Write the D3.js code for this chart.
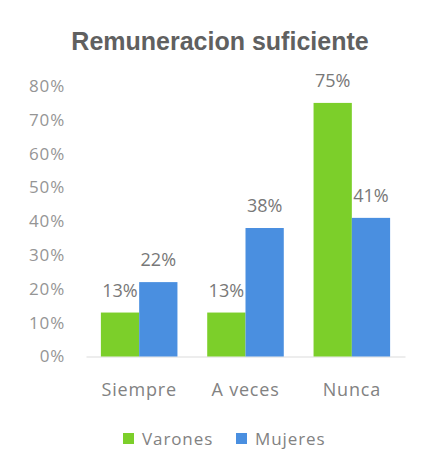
<!DOCTYPE html>
<html><head><meta charset="utf-8">
<script src="https://cdn.jsdelivr.net/npm/d3@7"></script>
<style>
html,body{margin:0;padding:0;background:#fff;}
svg{display:block;}
</style></head>
<body>
<script>
const categories = ["Siempre", "A veces", "Nunca"];
const seriesNames = ["Varones", "Mujeres"];
const varones = [13, 13, 75];
const mujeres = [22, 38, 41];
const tickValues = [0, 10, 20, 30, 40, 50, 60, 70, 80];
const colors = ["#7ccf2a", "#4a8fe0"];
const title = "Remuneracion suficiente";

const W = 427, H = 472;
const svg = d3.select("body").append("svg").attr("width", W).attr("height", H);
svg.append("rect").attr("width", W).attr("height", H).attr("fill", "#fff");

const x = d3.scaleBand().domain(categories).range([86, 405]).paddingInner(0.28).paddingOuter(0.14);
const xs = d3.scaleBand().domain(seriesNames).range([0, x.bandwidth()]);
const y = d3.scaleLinear().domain([0, 80]).range([356.5, 86]);

svg.append("text").attr("x", 220).attr("y", 50).attr("text-anchor", "middle")
  .attr("font-family", "Liberation Sans, Arial, sans-serif").attr("font-weight", "bold")
  .attr("font-size", 25).attr("fill", "#606060").text(title);

// y axis
const yAxis = d3.axisLeft(y).tickValues(tickValues).tickFormat(d => d + "%").tickSize(0).tickPadding(0);
const gy = svg.append("g").attr("transform", "translate(65,0)").call(yAxis);
gy.select(".domain").remove();
gy.selectAll("text").attr("font-family", "Open Sans, sans-serif").attr("font-size", 17)
  .attr("letter-spacing", "0.8px").attr("fill", "#959595");

// baseline
const xAxis = d3.axisBottom(x).tickSize(0).tickPadding(0);
const gx = svg.append("g").attr("transform", `translate(0,${y(0)})`).call(xAxis);
gx.select(".domain").attr("stroke", "#dcdcdc").attr("stroke-width", 1.2);
gx.selectAll("text").attr("dy", 0).attr("y", 39).attr("font-family", "Open Sans, sans-serif")
  .attr("font-size", 18).attr("letter-spacing", "0.8px").attr("fill", "#828282");

const data = categories.map((c, i) => ({cat: c, vals: [varones[i], mujeres[i]]}));
const groups = svg.append("g").selectAll("g").data(data).join("g")
  .attr("transform", d => `translate(${x(d.cat)},0)`);
groups.selectAll("rect").data(d => d.vals.map((v, j) => ({name: seriesNames[j], v, j})))
  .join("rect")
  .attr("x", d => xs(d.name)).attr("width", xs.bandwidth())
  .attr("y", d => y(d.v)).attr("height", d => y(0) - y(d.v))
  .attr("fill", d => colors[d.j]);
groups.selectAll("text.lbl").data(d => d.vals.map((v, j) => ({name: seriesNames[j], v, j})))
  .join("text").attr("class", "lbl")
  .attr("x", d => xs(d.name) + xs.bandwidth() / 2).attr("y", d => y(d.v) - 16)
  .attr("text-anchor", "middle").attr("font-family", "Open Sans, sans-serif")
  .attr("font-size", 18).attr("fill", "#787878").text(d => d.v + "%");

// legend
const legendX = [123, 236];
const lg = svg.append("g").selectAll("g").data(seriesNames).join("g")
  .attr("transform", (d, i) => `translate(${legendX[i]},433)`);
lg.append("rect").attr("width", 11).attr("height", 11).attr("fill", (d, i) => colors[i]);
lg.append("text").attr("x", 19).attr("y", 12).attr("font-family", "Open Sans, sans-serif")
  .attr("font-size", 17).attr("letter-spacing", "0.9px").attr("fill", "#828282").text(d => d);
</script>
</body></html>
